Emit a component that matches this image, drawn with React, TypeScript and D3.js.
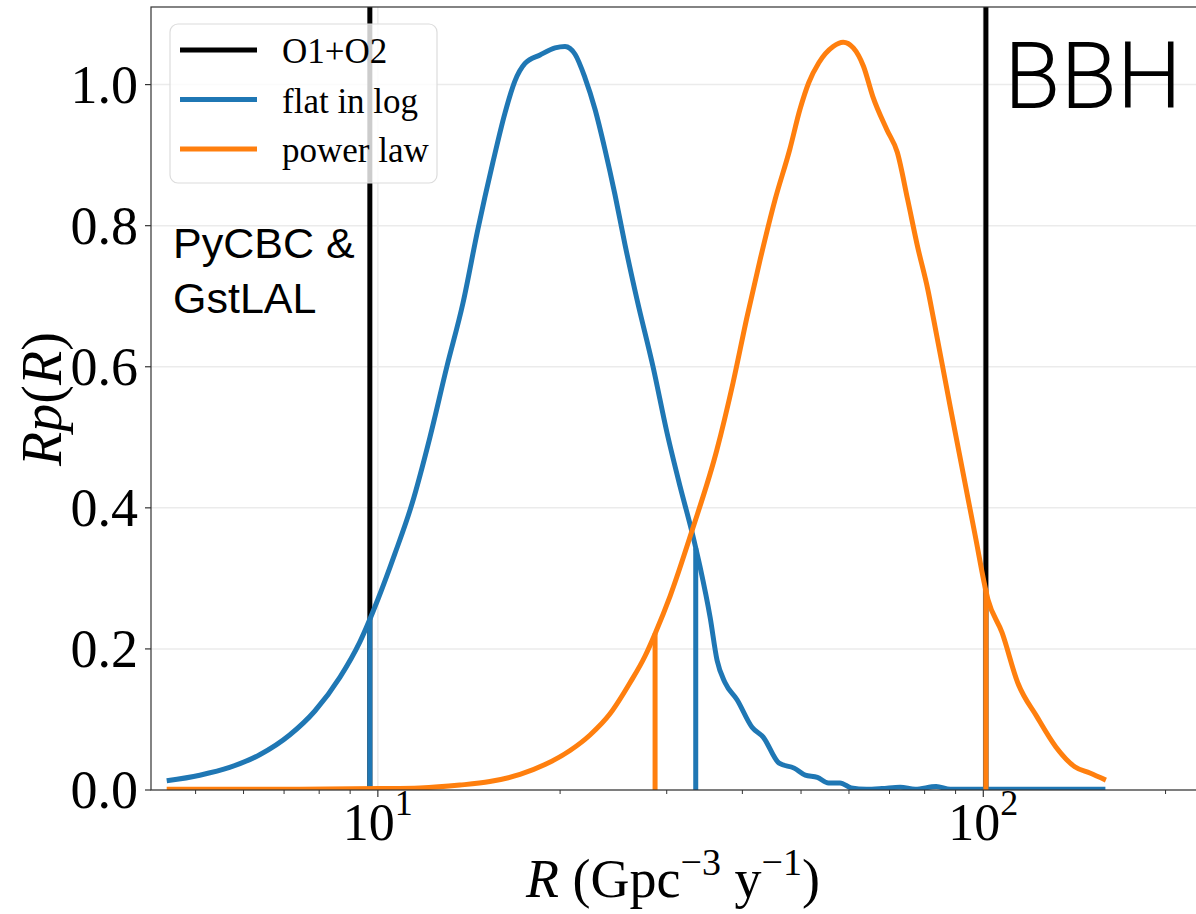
import React from 'react';
import * as d3 from 'd3';

// flat in log prior (blue)
const flatRate = [4.48, 5.08, 5.69, 6.38, 7.15, 7.87, 8.66, 9.34, 10.0, 10.67, 11.38, 12.19, 13.0, 13.82, 14.63, 15.49, 16.22, 16.84, 17.5, 18.53, 19.62, 20.38, 21.17, 21.98, 22.84, 23.72, 24.64, 25.6, 26.8, 28.48, 30.04, 31.57, 33.04, 34.06, 35.38, 36.33, 37.46, 39.2, 41.5, 43.3, 46.0, 48.7, 50.8, 53.2, 55.5, 58.0, 60.5, 64.1, 68.0, 72.9, 77.2, 83.6, 88.2, 106.7, 159.1];
const flatP = [0.013, 0.021, 0.032, 0.05, 0.078, 0.112, 0.16, 0.21, 0.27, 0.335, 0.405, 0.5, 0.6, 0.69, 0.795, 0.89, 0.96, 1.005, 1.03, 1.042, 1.052, 1.054, 1.043, 1.01, 0.965, 0.908, 0.844, 0.773, 0.695, 0.6, 0.506, 0.43, 0.365, 0.316, 0.245, 0.184, 0.152, 0.128, 0.089, 0.075, 0.038, 0.031, 0.021, 0.018, 0.01, 0.01, 0.003, 0.001, 0.002, 0.004, 0.001, 0.005, 0.001, 0.001, 0.001];

// power law prior (orange)
const powerRate = [4.48, 7.43, 10.08, 11.73, 13.66, 15.31, 17.17, 18.88, 20.77, 22.41, 24.18, 26.09, 27.63, 28.71, 30.39, 33.04, 36.3, 38.6, 40.7, 42.8, 45.3, 47.9, 49.8, 51.5, 53.5, 56.5, 58.7, 61.0, 63.4, 65.7, 69.3, 72.1, 75.0, 77.9, 81.0, 82.8, 88.2, 93.3, 96.9, 101.8, 107.4, 114.0, 122.6, 131.8, 141.6, 150.0, 159.4];
const powerP = [0.001, 0.001, 0.002, 0.003, 0.007, 0.012, 0.022, 0.036, 0.056, 0.078, 0.108, 0.152, 0.19, 0.222, 0.275, 0.368, 0.482, 0.577, 0.67, 0.752, 0.837, 0.908, 0.965, 1.003, 1.031, 1.054, 1.06, 1.052, 1.026, 0.983, 0.936, 0.904, 0.837, 0.77, 0.709, 0.667, 0.543, 0.435, 0.362, 0.27, 0.223, 0.152, 0.104, 0.061, 0.033, 0.024, 0.014];

// interval bounds
const o1o2Bounds = [9.7, 101];
const flatCI = [9.7, 33.5];
const powerCI = [28.7, 101];

const yTicks = [0, 0.2, 0.4, 0.6, 0.8, 1.0];
const xMajorTicks = [10, 100];
const xMinorTicks = [5, 6, 7, 8, 9, 20, 30, 40, 50, 60, 70, 80, 90, 200];
const legendLabels = ['O1+O2', 'flat in log', 'power law'];

const BLUE = '#1f77b4';
const ORANGE = '#ff7f0e';
const serif = "'Liberation Serif', 'Times New Roman', serif";

export default function App() {
  const left = 151, right = 1200, top = 7, bottom = 790;

  const x = d3.scaleLog().domain([4.22, 228]).range([left, right]);
  const y = d3.scaleLinear().domain([0, 1.11]).range([bottom, top]);

  const line = d3.line<[number, number]>()
    .x(d => x(d[0]))
    .y(d => y(d[1]))
    .curve(d3.curveMonotoneX);

  const flatPath = line(flatRate.map((r, i) => [r, flatP[i]]));
  const powerPath = line(powerRate.map((r, i) => [r, powerP[i]]));

  // curve height at the interval bounds, piecewise along the data
  const flatAt = d3.scaleLog().domain(flatRate).range(flatP);
  const powerAt = d3.scaleLog().domain(powerRate).range(powerP);

  const legendColors = ['#000', BLUE, ORANGE];

  return (
    <svg width={1196} height={914} style={{ position: 'absolute', left: 0, top: 0, background: '#fff' }}>
      <rect x={0} y={0} width={1196} height={914} fill="#fff" />
      <defs>
        <clipPath id="plot">
          <rect x={left} y={top} width={right - left} height={bottom - top} />
        </clipPath>
      </defs>

      {/* grid */}
      {yTicks.map(t => (
        <line key={'gy' + t} x1={left} x2={right} y1={y(t)} y2={y(t)} stroke="#ebebeb" strokeWidth={1.5} />
      ))}
      {xMajorTicks.map(t => (
        <line key={'gx' + t} x1={x(t)} x2={x(t)} y1={top} y2={bottom} stroke="#ebebeb" strokeWidth={1.5} />
      ))}

      <g clipPath="url(#plot)">
        {o1o2Bounds.map(b => (
          <line key={'o' + b} x1={x(b)} x2={x(b)} y1={top} y2={bottom} stroke="#000" strokeWidth={5} />
        ))}
        <path d={flatPath} fill="none" stroke={BLUE} strokeWidth={5} strokeLinejoin="round" />
        {flatCI.map(b => (
          <line key={'f' + b} x1={x(b)} x2={x(b)} y1={bottom} y2={y(flatAt(b))} stroke={BLUE} strokeWidth={5} />
        ))}
        <path d={powerPath} fill="none" stroke={ORANGE} strokeWidth={5} strokeLinejoin="round" />
        {powerCI.map(b => (
          <line key={'p' + b} x1={x(b)} x2={x(b)} y1={bottom} y2={y(powerAt(b))} stroke={ORANGE} strokeWidth={5} />
        ))}
      </g>

      {/* spines */}
      <rect x={left} y={top} width={right - left} height={bottom - top} fill="none" stroke="#333" strokeWidth={1.2} />

      {/* y axis */}
      {yTicks.map(t => (
        <g key={'yt' + t}>
          <line x1={left - 6} x2={left} y1={y(t)} y2={y(t)} stroke="#333" strokeWidth={1.2} />
          <text x={138} y={y(t)} dy="0.34em" textAnchor="end" fontFamily={serif} fontSize={54} fill="#000">
            {t.toFixed(1)}
          </text>
        </g>
      ))}

      {/* x axis */}
      {xMinorTicks.map(t => (
        <line key={'xm' + t} x1={x(t)} x2={x(t)} y1={bottom} y2={bottom + 4} stroke="#333" strokeWidth={1} />
      ))}
      {xMajorTicks.map(t => (
        <g key={'xt' + t}>
          <line x1={x(t)} x2={x(t)} y1={bottom} y2={bottom + 7} stroke="#333" strokeWidth={1.2} />
          <text x={x(t)} y={840} textAnchor="middle" fontFamily={serif} fontSize={52} fill="#000">
            10<tspan dy={-25} fontSize={36}>{Math.round(Math.log10(t))}</tspan>
          </text>
        </g>
      ))}

      {/* axis labels */}
      <text x={673} y={897} textAnchor="middle" fontFamily={serif} fontSize={54} fill="#000">
        <tspan fontStyle="italic">R</tspan> (Gpc<tspan dy={-22} fontSize={38}>−3</tspan>
        <tspan dy={22}> y</tspan><tspan dy={-22} fontSize={38}>−1</tspan><tspan dy={22}>)</tspan>
      </text>
      <text transform="translate(61,399) rotate(-90)" textAnchor="middle" fontFamily={serif} fontSize={56} fill="#000">
        <tspan fontStyle="italic">Rp</tspan>(<tspan fontStyle="italic">R</tspan>)
      </text>

      {/* legend */}
      <g>
        <rect x={170} y={24} width={267} height={159} rx={8} fill="#fff" fillOpacity={0.8} stroke="#dcdcdc" strokeWidth={1.2} />
        {legendLabels.map((l, i) => (
          <g key={l}>
            <line x1={180} x2={257} y1={50 + i * 49.5} y2={50 + i * 49.5} stroke={legendColors[i]} strokeWidth={5} />
            <text x={282} y={63 + i * 49.5} fontFamily={serif} fontSize={35} fill="#000">{l}</text>
          </g>
        ))}
      </g>

      {/* annotations */}
      <text x={173} y={258} fontFamily="'Liberation Sans', Arial, sans-serif" fontSize={43} fill="#000">PyCBC &amp;</text>
      <text x={173} y={313} fontFamily="'Liberation Sans', Arial, sans-serif" fontSize={43} fill="#000">GstLAL</text>
      <text x={1004} y={108} fontFamily="Roboto, 'Liberation Sans', sans-serif" fontWeight={300} fontSize={92} fill="#000">BBH</text>
    </svg>
  );
}
